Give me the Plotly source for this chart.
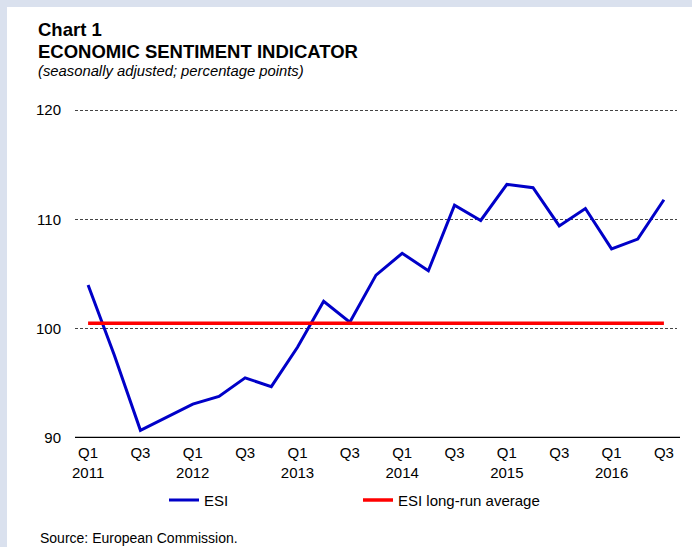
import plotly.graph_objects as go

# quarterly ESI, Q1 2011 .. Q3 2016
quarters = [f"{y} Q{q}" for y in range(2011, 2017) for q in range(1, 5)][:23]
esi = [104.0, 97.6, 90.7, 91.9, 93.1, 93.8, 95.5, 94.7, 98.3, 102.5, 100.6, 104.9,
       106.9, 105.3, 111.3, 109.9, 113.2, 112.9, 109.4, 111.0, 107.3, 108.2, 111.8]
long_run_avg = 100.5

tick_vals = quarters[::2]
tick_text = ["Q1<br>2011", "Q3", "Q1<br>2012", "Q3", "Q1<br>2013", "Q3", "Q1<br>2014",
             "Q3", "Q1<br>2015", "Q3", "Q1<br>2016", "Q3"]

FONT = "Liberation Sans, Arial, sans-serif"
FRAME = "#dae1ee"
W, H = 692, 547
L, R, B = 75, 677, 437.7
Y_TOP = 120.1
T = 110 - (Y_TOP - 120) * (B - 110) / 30


def px_x(p):
    return (p - L) / (R - L)


def px_y(p):
    return (B - p) / (B - T)


fig = go.Figure()
fig.add_trace(go.Scatter(x=quarters, y=esi, name="ESI", mode="lines",
                         line=dict(color="#0000c8", width=3)))
fig.add_trace(go.Scatter(x=quarters, y=[long_run_avg] * len(quarters),
                         name="ESI long-run average", mode="lines",
                         line=dict(color="#ff0000", width=3.5)))

fig.update_xaxes(type="category", range=[-0.5, 22.5], tickvals=tick_vals, ticktext=tick_text,
                 showgrid=False, ticks="", showline=False, zeroline=False,
                 tickfont=dict(size=15, color="#000"), ticklabelstandoff=4)
fig.update_yaxes(range=[90, Y_TOP], tickvals=[90, 100, 110, 120], showgrid=True,
                 gridcolor="#444", griddash="3px,2px", gridwidth=1, zeroline=False,
                 ticks="", tickfont=dict(size=15, color="#000"), ticklabelstandoff=13)

# black baseline at 90
fig.add_shape(type="line", xref="paper", yref="y", x0=0, x1=1.005, y0=90, y1=90,
              line=dict(color="#000", width=2.5))
# light-blue frame on the left and top edges
fig.add_shape(type="rect", xref="paper", yref="paper", layer="below",
              x0=px_x(-5), x1=px_x(7), y0=px_y(-5), y1=px_y(H + 5),
              fillcolor=FRAME, line=dict(width=0))
fig.add_shape(type="rect", xref="paper", yref="paper", layer="below",
              x0=px_x(-5), x1=px_x(W + 5), y0=px_y(-5), y1=px_y(7),
              fillcolor=FRAME, line=dict(width=0))

fig.add_annotation(text="<b>Chart 1</b>", xref="paper", yref="paper", x=px_x(36), y=px_y(29),
                   xanchor="left", yanchor="middle", showarrow=False,
                   font=dict(size=18.5, color="#000", family=FONT))
fig.add_annotation(text="<b>ECONOMIC SENTIMENT INDICATOR</b>", xref="paper", yref="paper",
                   x=px_x(36), y=px_y(51), xanchor="left", yanchor="middle", showarrow=False,
                   font=dict(size=18.5, color="#000", family=FONT))
fig.add_annotation(text="<i>(seasonally adjusted; percentage points)</i>", xref="paper",
                   yref="paper", x=px_x(36), y=px_y(71), xanchor="left", yanchor="middle",
                   showarrow=False, font=dict(size=14.8, color="#000", family=FONT))
fig.add_annotation(text="Source: European Commission.", xref="paper", yref="paper",
                   x=px_x(38), y=px_y(538), xanchor="left", yanchor="middle",
                   showarrow=False, font=dict(size=14, color="#000", family=FONT))

fig.update_layout(
    width=W, height=H,
    margin=dict(l=L, r=W - R, t=T, b=H - B),
    paper_bgcolor="#ffffff", plot_bgcolor="#ffffff",
    font=dict(family=FONT, size=15, color="#000"),
    showlegend=True,
    legend=dict(orientation="h", x=px_x(164), y=px_y(500), xanchor="left", yanchor="middle",
                bgcolor="rgba(0,0,0,0)", font=dict(size=15), itemwidth=30,
                entrywidth=149, entrywidthmode="pixels"),
)

fig.write_html("out.html", config={"displayModeBar": False},
               post_script="document.body.style.margin='0';")
